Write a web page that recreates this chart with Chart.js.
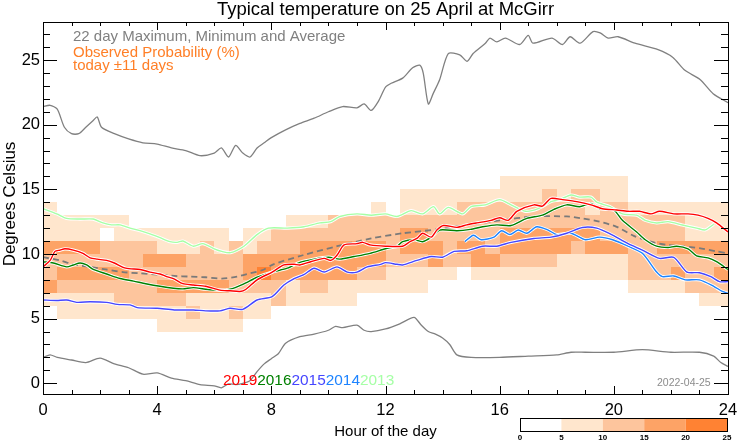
<!DOCTYPE html>
<html>
<head>
<meta charset="utf-8">
<script src="https://cdn.jsdelivr.net/npm/chart.js@4/dist/chart.umd.min.js"></script>
<style>
  html, body { margin: 0; padding: 0; background: #fff; }
  canvas { display: block; }
</style>
</head>
<body>
<canvas id="tempChart" width="742" height="445"></canvas>
<script>
// observed probability, one string per 1 degree band (bottom band first),
// one character per half hour column, value = colour class (0..4 -> 0-5,5-10,...%)
const probRowStart = 4;
const probColWidth = 0.5;
const probRows = [
  "000000001111110000000000000000000000000000000000", // 4-5
  "011111111121121100000000000000000000000000000000", // 5-6
  "111112222211111121111100000000000000000000000011", // 6-7
  "322222223333322221221111111000000000000001111222", // 7-8
  "233333222222223433333322111110111111111112223223", // 8-9
  "222222233322223333333333222322332222111112222222", // 9-10
  "333322221112121222333333233323323333323332233333", // 10-11
  "111101111111101122222222233222223333333222222111", // 11-12
  "111111000000000001112222222222222222222222222111", // 12-13
  "100000000000000000000001011112222222221221111111", // 13-14
  "000000000000000000000000011111111112122110000000", // 14-15
  "000000000000000000000000000000001111111110000000"  // 15-16
];
const probLevels = [0, 5, 10, 15, 20, 25];
const probColours = ['#ffffff', '#ffe6cd', '#fdc59d', '#fda366', '#ff8233'];

// 22 day maximum / minimum / average  [hour, degrees]
const maxLine = [[0,21.4],[0.25,21.5],[0.5,21.2],[0.75,19.8],[1,19.3],[1.25,19.3],[1.5,19.8],[1.75,20.3],[1.9,20.6],[2.05,19.8],[2.5,19.3],[3,18.9],[3.5,18.6],[4,18.5],[4.5,18.2],[5,18.0],[5.5,17.6],[6,17.8],[6.25,18.2],[6.5,17.5],[6.75,18.4],[7,17.8],[7.25,17.5],[7.5,18.2],[7.75,18.6],[8,19.0],[8.5,19.6],[9,20.1],[9.5,20.5],[10,21.0],[10.5,21.4],[11,21.3],[11.25,21.6],[11.5,21.1],[11.75,21.8],[12,22.9],[12.2,23.2],[12.6,23.6],[12.95,24.4],[13.2,24.6],[13.32,24.0],[13.5,21.6],[13.67,22.4],[13.9,23.5],[14.2,25.5],[14.6,25.4],[14.86,24.9],[15.07,25.5],[15.5,26.3],[15.66,26.7],[15.9,26.4],[16.2,26.7],[16.7,26.2],[17,26.9],[17.17,26.3],[17.83,26.7],[18.2,26.2],[18.47,26.8],[18.82,26.3],[19.27,27.2],[19.52,27.1],[19.8,26.7],[20.15,26.8],[20.74,26.3],[21.55,25.8],[22.07,25.2],[22.49,24.2],[23.02,23.5],[23.48,22.4],[24,21.7]];
const minLine = [[0,2.0],[0.25,2.2],[0.5,2.0],[1,1.8],[1.5,1.6],[2,1.95],[2.5,1.5],[3,1.2],[3.5,0.7],[4,0.8],[4.5,0.4],[5,0.2],[5.5,-0.1],[6,-0.2],[6.25,-0.35],[6.5,-0.05],[6.75,-0.1],[7,0.0],[7.25,0.2],[7.5,0.9],[7.75,1.5],[8,1.9],[8.25,2.3],[8.5,3.1],[9,3.6],[9.5,3.8],[10,4.1],[10.25,4.4],[10.5,4.3],[11,4.5],[11.25,4.1],[11.5,4.0],[12,4.2],[12.5,4.6],[13,5.1],[13.25,4.5],[13.5,4.0],[13.75,3.8],[14,3.5],[14.25,3.0],[14.5,2.2],[15,2.0],[16,2.0],[17,2.1],[18,2.2],[18.5,2.4],[19,2.4],[20,2.4],[21,2.6],[22,2.4],[23,2.4],[23.5,2.1],[23.75,1.6],[24,1.3]];
const avgLine = [[0,9.75],[0.6,9.5],[1.06,9.2],[1.65,9.0],[2.2,8.8],[2.8,8.6],[3.4,8.5],[4,8.4],[4.6,8.3],[5.15,8.25],[5.7,8.2],[6.26,8.1],[6.8,8.25],[7.25,8.5],[7.7,8.76],[8.07,9.2],[9.1,9.9],[10.3,10.6],[11.5,11.2],[12.6,11.6],[13.8,11.9],[15,12.3],[15.7,12.5],[16,12.6],[17.2,12.9],[18.35,12.9],[18.9,12.75],[19.5,12.5],[20.1,12.1],[20.7,11.4],[21.3,10.95],[21.85,10.7],[22.4,10.6],[23,10.45],[23.6,10.2],[24,10.05]];

// single years  [hour, degrees]
const year2019 = [[0,9.0],[0.25,9.5],[0.42,10.2],[0.6,10.3],[0.77,10.4],[1.06,10.3],[1.4,10.05],[1.65,9.7],[1.9,9.6],[2.23,9.5],[2.5,9.3],[2.9,8.9],[3.4,8.8],[3.75,8.6],[4.1,8.45],[4.33,8.25],[4.57,8.1],[4.9,7.7],[5.27,7.6],[5.7,7.5],[6.2,7.2],[6.55,7.15],[6.9,7.1],[7.1,7.25],[7.5,8.0],[8.03,8.6],[8.44,9.15],[8.8,9.2],[9.0,9.15],[9.38,9.4],[9.85,9.66],[10.08,9.5],[10.3,9.9],[10.55,10.7],[11.0,10.8],[11.2,10.9],[11.46,10.7],[12.0,10.6],[12.6,10.6],[12.86,10.95],[13.1,11.2],[13.3,11.6],[13.6,11.3],[13.8,11.85],[14.03,12.2],[14.5,12.06],[14.85,12.25],[15.2,12.4],[15.7,12.6],[16.0,12.8],[16.3,12.6],[16.6,13.3],[17.2,13.8],[17.5,13.7],[17.8,14.3],[18.2,14.2],[18.7,14.05],[19.2,13.8],[19.6,13.5],[20.1,13.4],[20.5,13.3],[20.9,13.3],[21.3,13.1],[21.6,13.3],[22.1,13.1],[22.6,13.1],[22.95,13.0],[23.3,12.75],[23.6,12.4],[24,11.7]];
const year2016 = [[0,9.4],[0.36,9.3],[0.83,9.0],[1.06,9.15],[1.3,9.3],[1.53,9.15],[1.76,8.8],[2.23,8.45],[2.7,8.1],[3.17,7.9],[3.6,7.7],[4.1,7.5],[4.57,7.35],[4.9,7.3],[5.27,7.4],[5.7,7.27],[6.2,7.2],[6.55,7.27],[7.0,7.65],[7.5,8.2],[8.03,8.6],[8.56,8.9],[9.0,9.35],[9.5,9.6],[10.0,9.75],[10.4,9.6],[10.9,9.8],[11.46,10.05],[12.0,10.4],[12.4,10.6],[12.6,10.95],[13.0,11.1],[13.3,10.95],[13.6,11.3],[13.9,11.85],[14.5,11.8],[14.97,11.9],[15.4,12.1],[15.9,12.25],[16.4,12.2],[16.95,12.75],[17.5,13.0],[17.9,13.45],[18.35,13.8],[18.8,13.65],[19.2,13.9],[19.5,13.5],[20.0,13.4],[20.3,12.6],[20.8,11.7],[21.1,11.1],[21.5,10.6],[21.9,10.5],[22.2,10.6],[22.6,10.4],[22.9,9.85],[23.3,9.7],[23.6,9.4],[24,8.8]];
const year2015 = [[0,6.44],[0.48,6.4],[0.83,6.44],[1.18,6.26],[1.65,6.3],[2.23,6.26],[2.6,6.1],[3.05,6.06],[3.3,5.85],[4.0,5.8],[4.6,5.67],[5.27,5.67],[5.7,5.6],[6.2,5.6],[6.55,5.8],[7.0,5.72],[7.5,6.44],[8.03,6.7],[8.44,7.6],[8.8,8.1],[9.14,8.4],[9.5,8.9],[9.85,8.6],[10.3,9.0],[10.66,8.6],[11.0,8.6],[11.36,9.0],[11.83,9.2],[12.0,9.33],[12.4,9.2],[12.6,9.15],[13.1,9.5],[13.6,9.8],[14.0,9.75],[14.4,10.2],[14.85,10.25],[15.4,10.6],[15.9,10.6],[16.4,10.9],[17.2,11.2],[17.8,11.3],[18.35,11.6],[18.9,12.05],[19.4,12.0],[19.87,11.55],[20.5,10.8],[21.0,10.3],[21.6,9.66],[22.1,9.74],[22.56,8.6],[23.0,8.55],[23.4,8.25],[23.7,7.86],[24,7.86]];
const year2014 = [[14.78,10.95],[15.08,11.45],[15.35,11.1],[15.8,11.3],[16.07,11.8],[16.36,11.5],[16.65,11.85],[16.95,11.6],[17.3,12.1],[17.7,11.85],[18.0,11.5],[18.5,11.6],[19.0,11.1],[19.5,11.3],[19.96,11.1],[20.5,10.6],[21.0,10.05],[21.5,8.6],[21.7,8.25],[22.1,8.3],[22.5,8.0],[23.0,8.0],[23.5,7.5],[23.8,7.1],[24,6.96]];
const year2013 = [[0,13.5],[0.48,13.1],[0.83,12.75],[1.3,12.7],[1.76,12.7],[2.1,12.4],[2.4,12.25],[2.7,12.25],[3.05,12.0],[3.4,11.8],[3.75,11.55],[4.1,11.26],[4.45,10.95],[4.7,10.9],[4.9,11.0],[5.27,10.6],[5.6,10.8],[6.0,10.4],[6.26,10.2],[6.57,10.1],[7.04,10.6],[7.5,11.5],[7.9,12.0],[8.56,12.0],[9.14,12.1],[9.7,12.4],[10.08,12.5],[10.4,12.9],[11.0,13.1],[11.5,13.0],[12.0,13.1],[12.4,12.9],[12.9,13.35],[13.3,13.1],[13.68,13.66],[13.9,13.1],[14.2,13.6],[14.7,13.1],[15.0,13.66],[15.5,13.8],[16.0,14.2],[16.4,13.8],[16.9,13.3],[17.35,13.5],[17.8,14.05],[18.1,14.2],[18.5,14.56],[18.8,14.4],[19.2,14.4],[19.4,14.0],[19.87,13.66],[20.3,13.1],[20.8,13.0],[21.1,12.6],[21.5,12.4],[21.9,12.5],[22.4,12.24],[22.9,12.0],[23.2,11.86],[23.5,12.3]];

const yearNames = ['2019', '2016', '2015', '2014', '2013'];
const yearSeries = [year2019, year2016, year2015, year2014, year2013];
const yearColours = ['#ff0000', '#008000', '#4646ff', '#1e84ff', '#a6ffa6'];

const hourTicks = [0, 4, 8, 12, 16, 20, 24];
const tempTicks = [0, 5, 10, 15, 20, 25];

const FONT = '"Liberation Sans", Arial, Helvetica, sans-serif';

function toPoints(pairs) {
  return pairs.map(p => ({ x: p[0], y: p[1] }));
}

// probability cells, drawn under the lines
const heatmapPlugin = {
  id: 'heatmap',
  beforeDatasetsDraw(chart) {
    const { ctx, scales: { x, y } } = chart;
    ctx.save();
    probRows.forEach((row, i) => {
      const t0 = probRowStart + i;
      const top = Math.round(y.getPixelForValue(t0 + 1));
      const bottom = Math.round(y.getPixelForValue(t0));
      for (let c = 0; c < row.length; c++) {
        const lvl = +row[c];
        if (!lvl) continue;
        const left = Math.round(x.getPixelForValue(c * probColWidth));
        const right = Math.round(x.getPixelForValue((c + 1) * probColWidth));
        ctx.fillStyle = probColours[lvl];
        ctx.fillRect(left, top, right - left, bottom - top);
      }
    });
    ctx.restore();
  }
};

// frame, inward ticks, labels and the little texts round the plot
const decorPlugin = {
  id: 'decor',
  afterDraw(chart) {
    const { ctx, chartArea: a, scales: { x, y } } = chart;
    ctx.save();
    ctx.strokeStyle = '#000';
    ctx.lineWidth = 1;
    ctx.strokeRect(a.left + 0.5, a.top + 0.5, a.right - a.left, a.bottom - a.top);

    ctx.beginPath();
    for (let h = 0; h <= 24; h++) {
      const px = Math.round(x.getPixelForValue(h)) + 0.5;
      const len = h % 4 === 0 ? 8 : 4;
      ctx.moveTo(px, a.bottom); ctx.lineTo(px, a.bottom - len);
      ctx.moveTo(px, a.top); ctx.lineTo(px, a.top + len);
    }
    for (let t = 0; t <= 27; t++) {
      const py = Math.round(y.getPixelForValue(t)) + 0.5;
      const len = t % 5 === 0 ? 14 : 7;
      ctx.moveTo(a.left, py); ctx.lineTo(a.left + len, py);
      ctx.moveTo(a.right, py); ctx.lineTo(a.right - len, py);
    }
    ctx.stroke();

    ctx.fillStyle = '#000';
    ctx.font = '16.5px ' + FONT;
    ctx.textBaseline = 'middle';
    ctx.textAlign = 'right';
    tempTicks.forEach(t => ctx.fillText(String(t), a.left - 3, y.getPixelForValue(t)));
    ctx.textAlign = 'center';
    hourTicks.forEach(h => ctx.fillText(String(h), x.getPixelForValue(h), a.bottom + 16));

    ctx.font = '18.5px ' + FONT;
    ctx.fillText('Typical temperature on 25 April at McGirr', (a.left + a.right) / 2, 10);
    ctx.font = '15px ' + FONT;
    ctx.fillText('Hour of the day', (a.left + a.right) / 2, 432);
    ctx.save();
    ctx.translate(10, 204);
    ctx.rotate(-Math.PI / 2);
    ctx.font = '17px ' + FONT;
    ctx.fillText('Degrees Celsius', 0, 0);
    ctx.restore();

    ctx.textAlign = 'left';
    ctx.font = '15px ' + FONT;
    ctx.fillStyle = '#808080';
    ctx.fillText('22 day Maximum, Minimum and Average', 73, 37);
    ctx.fillStyle = '#ff7f27';
    ctx.fillText('Observed Probability (%)', 73, 53);
    ctx.fillText('today \u00b111 days', 73, 66);

    ctx.font = '15.4px ' + FONT;
    let lx = 223;
    yearNames.forEach((name, i) => {
      ctx.fillStyle = yearColours[i];
      ctx.fillText(name, lx, 381);
      lx += ctx.measureText(name).width;
    });

    ctx.font = '10.5px ' + FONT;
    ctx.fillStyle = '#8c8c8c';
    ctx.fillText('2022-04-25', 657, 383);

    // colour key for the probability classes
    const kx = 520, ky = 418, kw = 207, kh = 13;
    const seg = kw / (probLevels.length - 1);
    for (let i = 0; i < probLevels.length - 1; i++) {
      ctx.fillStyle = probColours[i];
      ctx.fillRect(kx + i * seg, ky, seg, kh);
    }
    ctx.strokeStyle = '#000';
    ctx.strokeRect(kx + 0.5, ky + 0.5, kw, kh);
    ctx.fillStyle = '#000';
    ctx.font = 'bold 8px ' + FONT;
    ctx.textAlign = 'center';
    probLevels.forEach((v, i) => ctx.fillText(String(v), kx + i * seg, ky + kh + 7));
    ctx.restore();
  }
};

// bottom-to-top drawing order
const layers = [
  { data: toPoints(maxLine), borderColor: '#808080', borderWidth: 1.3 },
  { data: toPoints(minLine), borderColor: '#808080', borderWidth: 1.3 },
  { data: toPoints(avgLine), borderColor: '#7a7a7a', borderWidth: 1.8, borderDash: [6, 4] }
];
yearSeries.slice().reverse().forEach((series, k) => {
  const i = yearSeries.length - 1 - k;
  layers.push({ label: yearNames[i] + ' halo', data: toPoints(series), borderColor: '#ffffff', borderWidth: 3.2 });
  layers.push({ label: yearNames[i], data: toPoints(series), borderColor: yearColours[i], borderWidth: 1.4 });
});
const datasets = layers.map((d, i) => Object.assign({
  pointRadius: 0,
  tension: 0.25,
  fill: false,
  order: layers.length - i
}, d));

new Chart(document.getElementById('tempChart'), {
  type: 'line',
  data: { datasets: datasets },
  options: {
    responsive: false,
    animation: false,
    devicePixelRatio: 1,
    layout: { padding: { left: 43, right: 14, top: 22, bottom: 51 } },
    plugins: { legend: { display: false }, tooltip: { enabled: false } },
    scales: {
      x: { type: 'linear', min: 0, max: 24, display: false },
      y: { type: 'linear', min: -0.83, max: 27.94, display: false }
    }
  },
  plugins: [heatmapPlugin, decorPlugin]
});
</script>
</body>
</html>
